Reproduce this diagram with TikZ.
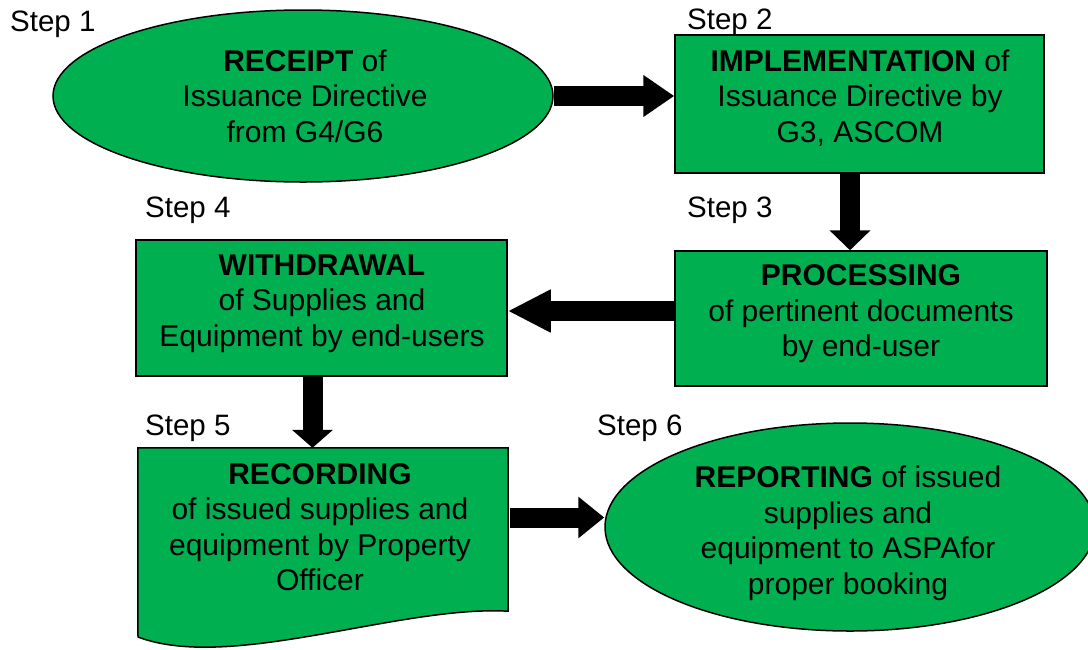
\documentclass[tikz,border=0pt]{standalone}
\usepackage{fontspec}
\setmainfont{Liberation Sans}
\usetikzlibrary{shapes.geometric,arrows.meta}
\definecolor{flowgreen}{RGB}{0,176,80}
\tikzset{
  shapebox/.style={draw=black, line width=1.5pt, fill=flowgreen, inner sep=0pt},
  oval/.style={shapebox, ellipse},
  procbox/.style={shapebox, rectangle},
  txt/.style={align=center, inner sep=0pt, font=\fontsize{30}{35.5}\selectfont},
  steplabel/.style={anchor=base west, inner sep=0pt, font=\fontsize{29.5}{35.5}\selectfont},
  blockarrow/.style={line width=20pt, draw=black,
    -{Triangle[length=#1, width=40pt]}},
}
\begin{document}
\begin{tikzpicture}[x=1pt, y=-1pt]
\useasboundingbox (0,0) rectangle (1088,649);

% process shapes
\node[oval, minimum width=500pt, minimum height=172pt] (e1) at (303,96) {};
\node[procbox, minimum width=369pt, minimum height=138pt] (b2) at (859.5,104) {};
\node[procbox, minimum width=372pt, minimum height=135pt] (b3) at (861,318.5) {};
\node[procbox, minimum width=371pt, minimum height=136pt] (b4) at (321.5,308) {};
\node[oval, minimum width=490pt, minimum height=208pt] (e6) at (850,527) {};

% document shape with wavy lower edge
\node[inner sep=0pt, minimum width=370pt, minimum height=163pt] (d5) at (323,529.5) {};
\draw[line width=1.5pt, fill=flowgreen]
  (d5.north west) -- (d5.north east) -- (d5.south east)
  .. controls (400,605) and (230,672) .. (138,637) -- cycle;

% texts
\node[txt] (t1) at (305,96) {\textbf{RECEIPT} of\\Issuance Directive\\from G4/G6};
\node[txt] (t2) at (860,98) {\textbf{IMPLEMENTATION} of\\Issuance Directive by\\G3, ASCOM};
\node[txt] (t3) at (861,314) {\textbf{PROCESSING}\\of pertinent documents\\by end-user};
\node[txt] (t4) at (322,303.5) {\textbf{WITHDRAWAL}\\of Supplies and\\Equipment by end-users};
\node[txt] (t5) at (320,527) {\textbf{RECORDING}\\of issued supplies and\\equipment by Property\\Officer};
\node[txt] (t6) at (848,533) {\textbf{REPORTING} of issued\\supplies and\\equipment to ASPAfor\\proper booking};

% step labels
\node[steplabel] (s1) at (10,31.5) {Step 1};
\node[steplabel] (s2) at (687,29) {Step 2};
\node[steplabel] (s3) at (687,217) {Step 3};
\node[steplabel] (s4) at (145,217) {Step 4};
\node[steplabel] (s5) at (145,435) {Step 5};
\node[steplabel] (s6) at (597,435) {Step 6};

% block arrows between the steps
\draw[blockarrow=31pt] (e1.east) -- (e1.east -| b2.west);
\draw[blockarrow=20pt] ([xshift=-9.5pt]b2.south) -- ([xshift=-9.5pt]b2.south |- b3.north);
\draw[blockarrow=43pt] ([yshift=7.5pt]b3.west) -- ([yshift=7.5pt]b3.west -| b4.east);
\draw[blockarrow=18pt] ([xshift=-9pt]b4.south) -- ([xshift=-9pt]b4.south |- d5.north);
\draw[blockarrow=26pt] ([xshift=2pt,yshift=12pt]d5.east) -- ([yshift=12pt]d5.east -| e6.west);
\end{tikzpicture}
\end{document}
